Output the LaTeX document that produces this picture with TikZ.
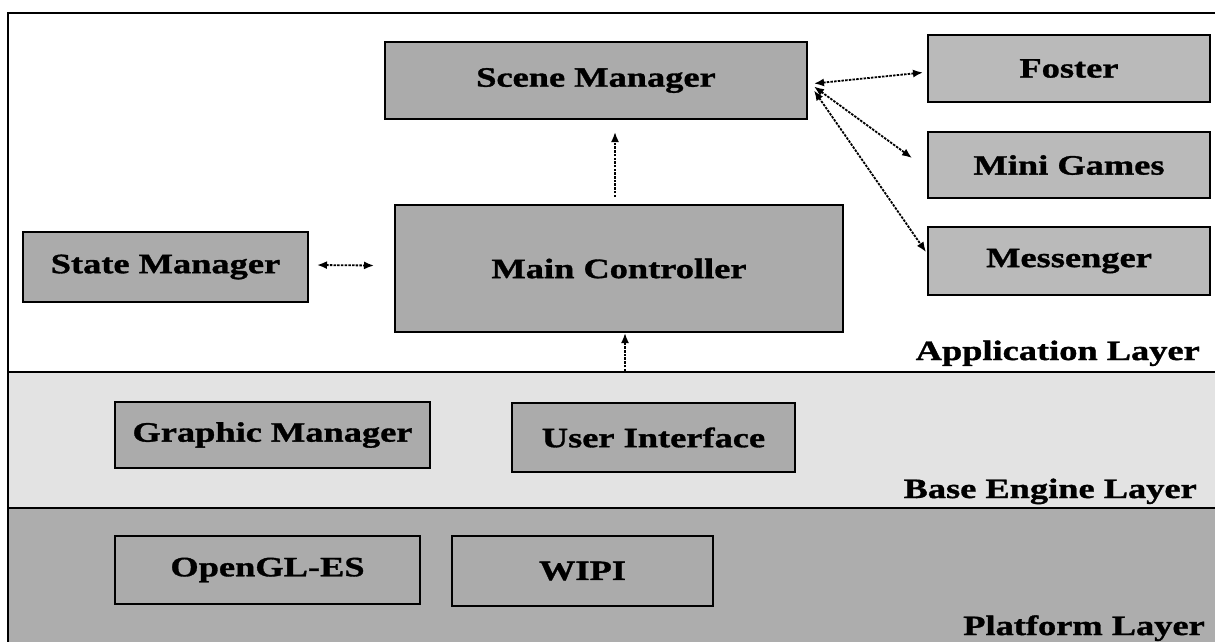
\documentclass[tikz,border=0pt]{standalone}
\usepackage{fontspec}
\setmainfont{Liberation Serif}[FakeStretch=1.3, BoldFeatures={FakeBold=1.2}]
\usetikzlibrary{arrows.meta,calc}
\newcommand{\diagfont}{\fontsize{28}{30}\selectfont\bfseries}
\begin{document}
\begin{tikzpicture}[x=1pt,y=-1pt,
  box/.style={draw=black, line width=2pt, fill=black!33, inner sep=0pt, font=\diagfont},
  lightbox/.style={box, fill=black!27},
  layerlabel/.style={font=\diagfont, inner sep=0pt, anchor=base east},
  conn/.style={line width=1.8pt, dash pattern=on 2.5pt off 1.2pt},
  dtip/.style={{Latex[length=10pt,width=8pt]}-{Latex[length=10pt,width=8pt]}},
  utip/.style={-{Latex[length=10pt,width=8pt]}},
  border/.style={line width=2pt}]
\useasboundingbox (0,0) rectangle (1215,641);
\clip (0,0) rectangle (1215,641);
\fill[white] (0,0) rectangle (1215,641);
% layers
\fill[black!11] (8,372) rectangle (1230,508);
\fill[black!32] (8,508) rectangle (1230,660);
\draw[border] (1230,13) -- (8,13) -- (8,660);
\draw[border] (8,372) -- (1230,372);
\draw[border] (8,508) -- (1230,508);
% application layer
\node[box, minimum width=422pt, minimum height=77pt] (scene) at (596,80.5) {Scene Manager};
\node[lightbox, minimum width=282pt, minimum height=67pt] (foster) at (1069,68.5) {Foster};
\node[lightbox, minimum width=282pt, minimum height=66pt] (mini) at (1069,165) {Mini Games};
\node[lightbox, minimum width=282pt, minimum height=68pt] (mess) at (1069,261) {Messenger};
\node[box, minimum width=285pt, minimum height=70pt] (state) at (165.5,267) {State Manager};
\node[box, minimum width=448pt, minimum height=127pt] (main) at (619,268.5) {Main Controller};
\node[layerlabel] (applbl) at (1200,360) {Application Layer};
% base engine layer
\node[box, minimum width=315pt, minimum height=66pt] (graphic) at (272.5,435) {Graphic Manager};
\node[box, minimum width=283pt, minimum height=69pt] (ui) at (653.5,437.5) {User Interface};
\node[layerlabel] (baselbl) at (1197,498) {Base Engine Layer};
% platform layer
\node[box, minimum width=305pt, minimum height=68pt] (opengl) at (267.5,570) {OpenGL-ES};
\node[box, minimum width=261pt, minimum height=70pt] (wipi) at (582.5,571) {WIPI};
\node[layerlabel] (platlbl) at (1205,635) {Platform Layer};
% connectors
\draw[conn, dtip] ($(scene.east)+(6,3)$) -- ($(foster.west)+(-4,4)$);
\draw[conn, dtip] ($(scene.east)+(6,6)$) -- ($(mini.west)+(-15,-7)$);
\draw[conn, dtip] ($(scene.east)+(6,10)$) -- ($(mess.west)+(-1,-9)$);
\draw[conn, utip] ($(main.north)+(-4,-7)$) -- ($(scene.south)+(19,12)$);
\coordinate (bl) at (625,371);
\draw[conn, utip] (bl) -- (bl |- main.south);
\draw[conn, dtip] ($(state.east)+(8,-2)$) -- ($(main.west)+(-20,-3)$);
\end{tikzpicture}
\end{document}
